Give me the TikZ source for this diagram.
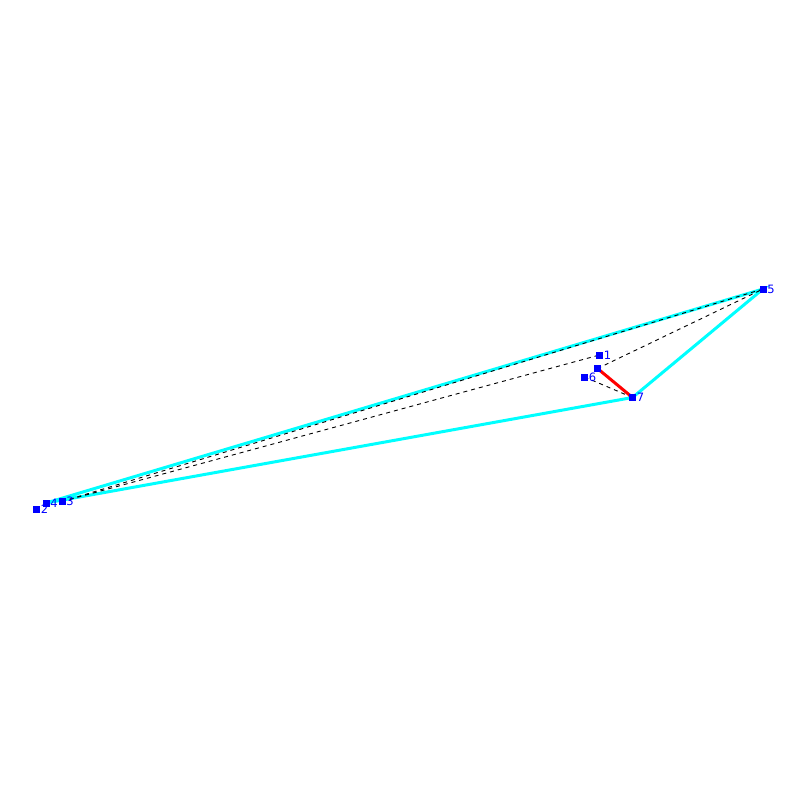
\documentclass[tikz,border=0pt]{standalone}
\usepackage{fontspec}
\setsansfont{DejaVu Sans}
\usetikzlibrary{backgrounds}
\definecolor{hullcyan}{RGB}{0,255,255}
\tikzset{every picture/.style={x=1pt,y=-1pt}}
\tikzset{graph node/.style={rectangle, minimum size=7pt, fill, inner sep=0pt, blue}}
\tikzset{vertex label/.style={blue, font=\sffamily\fontsize{11.5}{11.5}\selectfont, inner sep=0.5pt}}
\tikzset{hull edge/.style={hullcyan, line width=3pt}}
\tikzset{cut edge/.style={black, dash pattern=on 4pt off 4pt, line width=0.9pt}}
\tikzset{flip edge/.style={red, line width=3pt}}

\begin{document}
\begin{tikzpicture}
    \useasboundingbox (0,0) rectangle (800,800);
    \node[graph node] (p0) at (597.5,368.5) {};
    \node[graph node, label={[vertex label]east:1}] (p1) at (599.5,355) {};
    \node[graph node, label={[vertex label]east:2}] (p2) at (36.5,509) {};
    \node[graph node, label={[vertex label]east:3}] (p3) at (62,501.5) {};
    \node[graph node, label={[vertex label]east:4}] (p4) at (46,503) {};
    \node[graph node, label={[vertex label]east:5}] (p5) at (763,289) {};
    \node[graph node, label={[vertex label]east:6}] (p6) at (584.5,377) {};
    \node[graph node, label={[vertex label]east:7}] (p7) at (632.5,397.5) {};
    \begin{scope}[on background layer]
        \draw[hull edge] (p4.center) -- (p5.center) -- (p7.center) -- cycle;
        \draw[cut edge] (p3.center) -- (p5.center);
        \draw[cut edge] (p3.center) -- (p1.center);
        \draw[cut edge] (p0.center) -- (p5.center);
        \draw[cut edge] (p6.center) -- (p7.center);
        \draw[flip edge] (p0.center) -- (p7.center);
    \end{scope}
\end{tikzpicture}
\end{document}
